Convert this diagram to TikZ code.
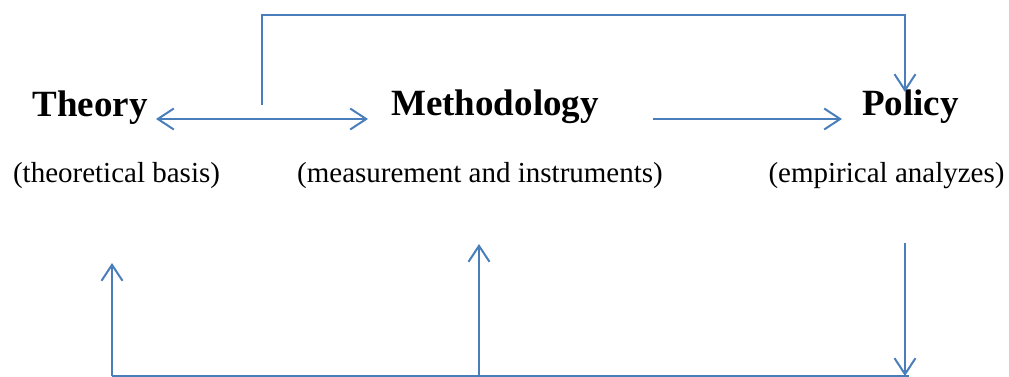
\documentclass[tikz,border=0pt]{standalone}
\usepackage{fontspec}
\setmainfont{Liberation Serif}
\usetikzlibrary{arrows.meta}
\definecolor{linkblue}{HTML}{4A7EBB}
\tikzset{
  title/.style={font=\fontsize{37}{40}\selectfont\bfseries, anchor=base, inner sep=0pt},
  sub/.style={font=\fontsize{29}{32}\selectfont, anchor=base, inner sep=0pt},
  conn/.style={draw=linkblue, line width=2pt},
  arr/.style={conn, -{Straight Barb[length=16pt,width=21pt,line width=2pt]}},
  darr/.style={conn, {Straight Barb[length=16pt,width=21pt,line width=2pt]}-{Straight Barb[length=16pt,width=21pt,line width=2pt]}}
}
\begin{document}
\begin{tikzpicture}[x=1pt,y=-1pt]
\useasboundingbox (0,0) rectangle (1009,377);
\node[title] (theory) at (90,117) {Theory};
\node[title] (method) at (495,116) {Methodology};
\node[title] (policy) at (910.5,116) {Policy};
\node[sub] (theorysub) at (116.5,182) {(theoretical basis)};
\node[sub] (methodsub) at (480,182) {(measurement and instruments)};
\node[sub] (policysub) at (886.5,182) {(empirical analyzes)};
\coordinate (tm1) at (156,119);
\coordinate (tm2) at (368,119);
\coordinate (mp1) at (653,119);
\coordinate (mp2) at (842,119);
\coordinate (topstart) at (262,105);
\coordinate (topleft) at (262,15);
\coordinate (topright) at (905,15);
\coordinate (topend) at (905,92);
\coordinate (pdown) at (905,243);
\coordinate (pdownend) at (905,376);
\coordinate (botleft) at (112,376);
\coordinate (botright) at (909,376);
\coordinate (botmid) at (479,376);
\coordinate (tup) at (112,263);
\coordinate (mup) at (479,244);
\draw[darr] (tm1) -- (tm2);
\draw[arr] (mp1) -- (mp2);
\draw[arr] (topstart) -- (topleft) -- (topright) -- (topend);
\draw[arr] (pdown) -- (pdownend);
\draw[conn] (botleft) -- (botright);
\draw[arr] (botleft) -- (tup);
\draw[arr] (botmid) -- (mup);
\end{tikzpicture}
\end{document}
